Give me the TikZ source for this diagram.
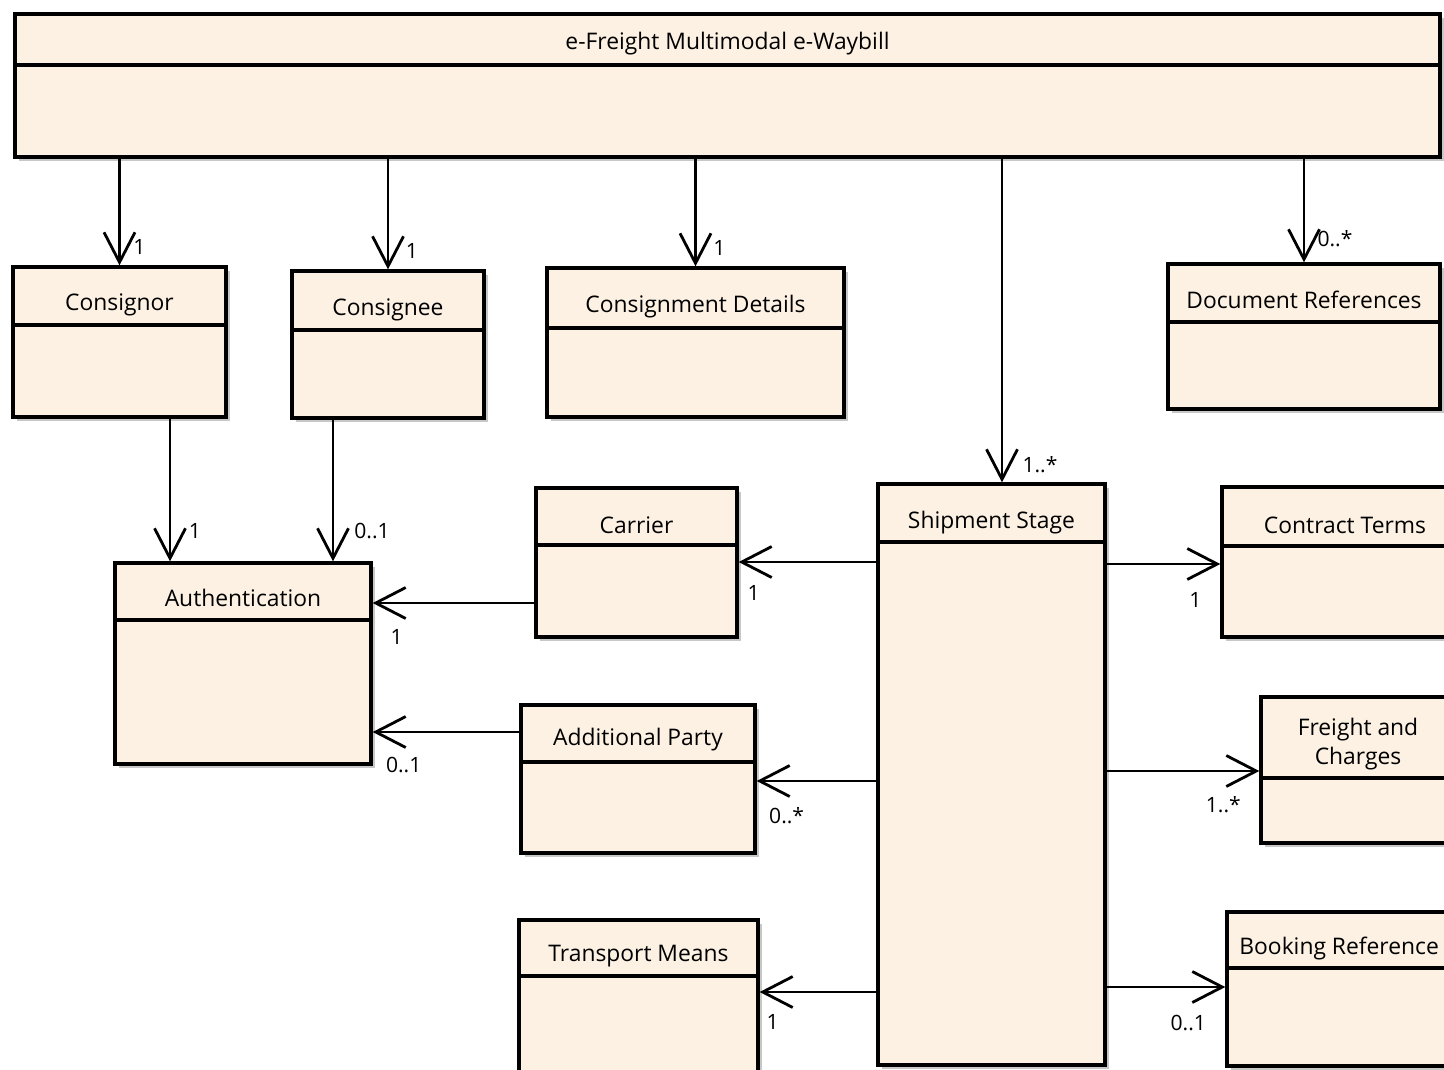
\documentclass[tikz,border=0pt]{standalone}
\usepackage{fontspec}
\setmainfont{Open Sans}
\usetikzlibrary{arrows.meta,fit,shadows}
\definecolor{classfill}{RGB}{252,241,227}
\tikzset{
  classbox/.style={rectangle, draw, line width=1.9pt, fill=classfill, inner sep=0pt,
    drop shadow={shadow xshift=2.5pt, shadow yshift=-2.5pt, fill=black, opacity=0.22}},
  classname/.style={font=\fontsize{13}{17}\selectfont, align=center, inner sep=0pt},
  divline/.style={line width=1.9pt},
  assoc/.style={line width=1.6pt, -{Straight Barb[length=0.6cm, width=0.62cm]}},
  mult/.style={font=\fontsize{12}{14}\selectfont, inner sep=0pt},
}
\begin{document}
\begin{tikzpicture}[x=0.02cm, y=-0.02cm]
	\useasboundingbox (0,0) rectangle (1444,1069);
	% classes
	\node[classbox, fit={(15,14) (1440,157)}] (waybill) {};
	\node[classbox, fit={(13,267) (226,417)}] (consignor) {};
	\node[classbox, fit={(292,271) (484,418)}] (consignee) {};
	\node[classbox, fit={(547,268) (844,417)}] (details) {};
	\node[classbox, fit={(1168,264) (1440,409)}] (docrefs) {};
	\node[classbox, fit={(115,563) (371,764)}] (auth) {};
	\node[classbox, fit={(536,488) (737,637)}] (carrier) {};
	\node[classbox, fit={(521,705) (755,853)}] (party) {};
	\node[classbox, fit={(519,920) (758,1095)}] (transport) {};
	\node[classbox, fit={(878,484) (1105,1065)}] (stage) {};
	\node[classbox, fit={(1222,487) (1468,637)}] (terms) {};
	\node[classbox, fit={(1261,697) (1455,843)}] (freight) {};
	\node[classbox, fit={(1227,912) (1470,1066)}] (booking) {};
	
	% names and dividers
	\node[classname] (waybill-t) at (waybill.north |- 0,44) {e-Freight Multimodal e-Waybill};
	\draw[divline] (waybill.west |- 0,65) -- (waybill.east |- 0,65);
	\node[classname] (consignor-t) at (consignor.north |- 0,305) {Consignor};
	\draw[divline] (consignor.west |- 0,325) -- (consignor.east |- 0,325);
	\node[classname] (consignee-t) at (consignee.north |- 0,310) {Consignee};
	\draw[divline] (consignee.west |- 0,330) -- (consignee.east |- 0,330);
	\node[classname] (details-t) at (details.north |- 0,307) {Consignment Details};
	\draw[divline] (details.west |- 0,328) -- (details.east |- 0,328);
	\node[classname] (docrefs-t) at (docrefs.north |- 0,300) {Document References};
	\draw[divline] (docrefs.west |- 0,322) -- (docrefs.east |- 0,322);
	\node[classname] (auth-t) at (auth.north |- 0,598) {Authentication};
	\draw[divline] (auth.west |- 0,620) -- (auth.east |- 0,620);
	\node[classname] (carrier-t) at (carrier.north |- 0,525) {Carrier};
	\draw[divline] (carrier.west |- 0,545) -- (carrier.east |- 0,545);
	\node[classname] (party-t) at (party.north |- 0,740) {Additional Party};
	\draw[divline] (party.west |- 0,762) -- (party.east |- 0,762);
	\node[classname] (transport-t) at (transport.north |- 0,956) {Transport Means};
	\draw[divline] (transport.west |- 0,976) -- (transport.east |- 0,976);
	\node[classname] (stage-t) at (stage.north |- 0,523) {Shipment Stage};
	\draw[divline] (stage.west |- 0,542) -- (stage.east |- 0,542);
	\node[classname] (terms-t) at (terms.north |- 0,525) {Contract Terms};
	\draw[divline] (terms.west |- 0,546) -- (terms.east |- 0,546);
	\node[classname] (freight-t) at (freight.north |- 0,744) {Freight and\\Charges};
	\draw[divline] (freight.west |- 0,778) -- (freight.east |- 0,778);
	\node[classname, anchor=west] (booking-t) at (1239,948) {Booking Reference};
	\draw[divline] (booking.west |- 0,968) -- (booking.east |- 0,968);
	
	% associations
	\draw[assoc] (waybill.south -| consignor.north) -- (consignor.north) node[mult, shift={(20,-18)}] {1};
	\draw[assoc] (waybill.south -| consignee.north) -- (consignee.north) node[mult, shift={(24,-18)}] {1};
	\draw[assoc] (waybill.south -| details.north) -- (details.north) node[mult, shift={(24,-18)}] {1};
	\draw[assoc] (waybill.south -| 1002,0) -- (stage.north -| 1002,0) node[mult, shift={(38,-18)}] {1..*};
	\draw[assoc] (waybill.south -| docrefs.north) -- (docrefs.north) node[mult, shift={(31,-24)}] {0..*};
	\draw[assoc] (consignor.south -| 170,0) -- (auth.north -| 170,0) node[mult, shift={(25,-30)}] {1};
	\draw[assoc] (consignee.south -| 333,0) -- (auth.north -| 333,0) node[mult, shift={(39,-30)}] {0..1};
	\draw[assoc] (carrier.west |- 0,603) -- (auth.east |- 0,603) node[mult, shift={(24,34)}] {1};
	\draw[assoc] (party.west |- 0,732) -- (auth.east |- 0,732) node[mult, shift={(31,33)}] {0..1};
	\draw[assoc] (stage.west |- 0,562) -- (carrier.east |- 0,562) node[mult, shift={(15,31)}] {1};
	\draw[assoc] (stage.west |- 0,781) -- (party.east |- 0,781) node[mult, shift={(30,35)}] {0..*};
	\draw[assoc] (stage.west |- 0,992) -- (transport.east |- 0,992) node[mult, shift={(13,30)}] {1};
	\draw[assoc] (stage.east |- 0,564) -- (terms.west |- 0,564) node[mult, shift={(-25,36)}] {1};
	\draw[assoc] (stage.east |- 0,771) -- (freight.west |- 0,771) node[mult, shift={(-36,34)}] {1..*};
	\draw[assoc] (stage.east |- 0,987) -- (booking.west |- 0,987) node[mult, shift={(-37,36)}] {0..1};
\end{tikzpicture}
\end{document}
